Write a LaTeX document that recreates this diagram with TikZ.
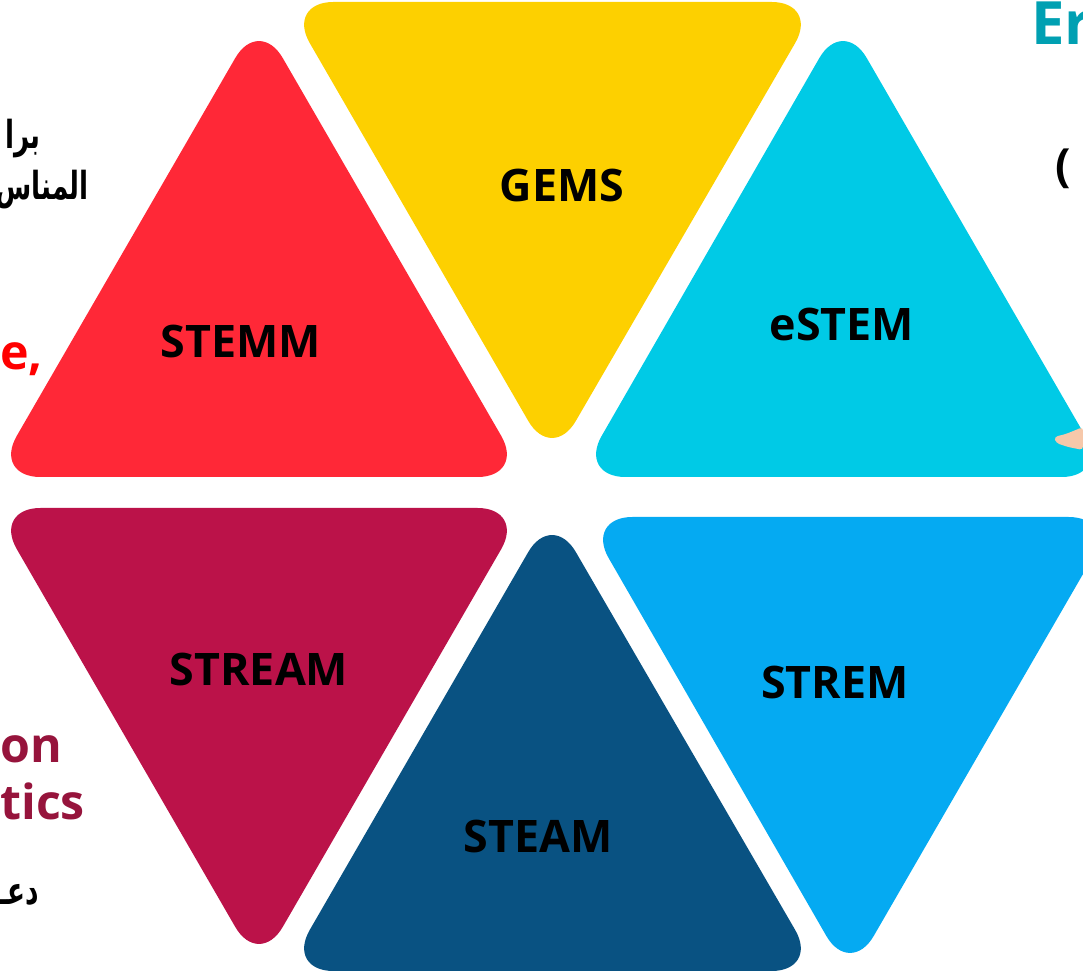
\documentclass[tikz,border=0pt]{standalone}
\usepackage{fontspec}
\usepackage{xcolor}
\setmainfont{Open Sans}
\newfontfamily\arabicfont[Script=Arabic,FakeStretch=0.68]{DejaVu Sans}
\TeXXeTstate=1

\definecolor{stemmred}{RGB}{255,40,55}
\definecolor{gemsyellow}{RGB}{253,208,0}
\definecolor{estemcyan}{RGB}{0,202,230}
\definecolor{streamred}{RGB}{187,18,73}
\definecolor{steamblue}{RGB}{9,82,130}
\definecolor{stremblue}{RGB}{5,170,242}
\definecolor{sidered}{RGB}{150,20,60}
\definecolor{sideteal}{RGB}{0,160,178}
\definecolor{handskin}{RGB}{246,200,170}

\begin{document}
\begin{tikzpicture}[x=0.02cm,y=-0.02cm,
  lbl/.style={font=\fontsize{25.5}{30}\selectfont\bfseries,text=black,inner sep=0pt},
  side/.style={font=\fontsize{27.5}{32}\selectfont\bfseries,inner sep=0pt,anchor=base west},
  arside/.style={font=\arabicfont\fontsize{22}{26}\selectfont\bfseries,inner sep=0pt,anchor=base east}]
\useasboundingbox (0,0) rectangle (1083,972);
\clip (0,0) rectangle (1083,972);
\begin{scope}[rounded corners=27pt]
% top row
\fill[stemmred] (-7,477) -- (259,17) -- (525,477) -- cycle;
\fill[gemsyellow] (286,2) -- (819,2) -- (552,462) -- cycle;
\fill[estemcyan] (578,477) -- (843,17) -- (1109,477) -- cycle;
% bottom row
\fill[streamred] (-7,508) -- (525,508) -- (259,968) -- cycle;
\fill[steamblue] (286,971) -- (552,511) -- (819,971) -- cycle;
\fill[stremblue] (585,517) -- (1116,517) -- (850,977) -- cycle;
\end{scope}
\fill[handskin,rounded corners=2pt] (1054,437) -- (1066,434) -- (1083,427) -- (1083,450) -- (1068,447) -- (1056,443) -- cycle;
\node[lbl] (gems) at (562,186) {GEMS};
\node[lbl] (stemm) at (241,342) {STEMM};
\node[lbl] (estem) at (842,325) {eSTEM};
\node[lbl] (stream) at (259,670) {STREAM};
\node[lbl] (steam) at (538,837) {STEAM};
\node[lbl] (strem) at (835,683) {STREM};
% cut-off texts at the edges
\node[arside] (ar1) at (41,149) {\beginR برا\endR};
\node[arside] (ar2) at (89,200) {\beginR المناس\endR};
\node[arside] (ar3) at (39,905) {\beginR دعـ\endR};
\node[side,text=red] (sci) at (0,370) {e,};
\node[side,text=sidered] (edu) at (0,763) {on};
\node[side,text=sidered] (math) at (0,820) {tics};
\node[side,text=sideteal,font=\fontsize{34}{40}\selectfont\bfseries] (eng) at (1031,45) {Er};
\node[side,text=black,font=\fontsize{26}{30}\selectfont\bfseries] (par) at (1055,182) {(};
\end{tikzpicture}
\end{document}
